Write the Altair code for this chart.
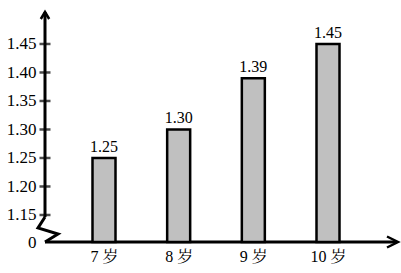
import altair as alt
import pandas as pd

# ---- data ----
ages = ["7 岁", "8 岁", "9 岁", "10 岁"]
heights = [1.25, 1.30, 1.39, 1.45]
height_labels = ["1.25", "1.30", "1.39", "1.45"]
tick_values = [1.15, 1.20, 1.25, 1.30, 1.35, 1.40, 1.45]
break_value = 1.1026          # bottom of the broken axis, shown as "0"
y_top = 1.5061

df = pd.DataFrame({"age": ages, "height": heights, "label": height_labels})
ticks_df = pd.DataFrame({"v": tick_values})
one = pd.DataFrame({"k": [0]})

W, H = 353, 230
FONT = "Liberation Serif, Noto Serif CJK SC, Noto Sans CJK SC"
FS = 16

y_scale = alt.Scale(domain=[break_value, y_top], nice=False, zero=False)
y_axis = alt.Axis(
    values=[break_value] + tick_values,
    labelExpr="datum.value < 1.12 ? '0' : format(datum.value, '.2f')",
    domain=False, ticks=False, grid=False, title=None,
    labelPadding=9, labelFont=FONT, labelFontSize=17, labelColor="black",
    labelOverlap=False, labelFlush=False,
)
x_enc = alt.X(
    "age:N", sort=ages,
    scale=alt.Scale(type="point", range=[59, 283], padding=0),
    axis=alt.Axis(title=None, domain=False, ticks=False, grid=False, labelAngle=0,
                  labelFont=FONT, labelFontSize=FS, labelColor="black",
                  labelPadding=6, labelBaseline="top"),
)

bars = alt.Chart(df).mark_bar(
    fill="#c0c0c0", stroke="black", strokeWidth=2.5, width=23
).encode(
    x=x_enc,
    y=alt.Y("height:Q", scale=y_scale, axis=y_axis),
    y2=alt.datum(break_value),
)

labels = alt.Chart(df).mark_text(
    font=FONT, fontSize=FS, color="black", baseline="alphabetic", dy=-6
).encode(
    x=x_enc,
    y=alt.Y("height:Q", scale=y_scale, axis=y_axis),
    text="label:N",
)

ticks = alt.Chart(ticks_df).mark_tick(
    color="black", thickness=2.5, size=11
).encode(
    y=alt.Y("v:Q", scale=y_scale, axis=y_axis),
    x=alt.value(0),
)

y_line = alt.Chart(one).mark_rule(color="black", strokeWidth=3).encode(
    x=alt.value(0), y=alt.value(0), y2=alt.value(205)
)
x_line = alt.Chart(one).mark_rule(color="black", strokeWidth=3).encode(
    x=alt.value(0), x2=alt.value(W - 1), y=alt.value(H)
)
y_arrow = alt.Chart(one).mark_point(
    shape="M-0.6,1L0,0L0.6,1", size=196, filled=False, stroke="black",
    strokeWidth=2.5, opacity=1
).encode(x=alt.value(0), y=alt.value(0))
x_arrow = alt.Chart(one).mark_point(
    shape="M-1,-0.5L0,0L-1,0.5", size=484, filled=False, stroke="black",
    strokeWidth=2.5, opacity=1
).encode(x=alt.value(W), y=alt.value(H))
zigzag = alt.Chart(one).mark_point(
    shape="M0,0L-0.28,0.44L0.52,0.68L0,1", size=2500, filled=False,
    stroke="black", strokeWidth=3, opacity=1
).encode(x=alt.value(0), y=alt.value(205))

chart = alt.layer(
    y_line, x_line, zigzag, y_arrow, x_arrow, ticks, bars, labels
).properties(
    width=W, height=H,
    padding={"left": 45, "top": 12, "right": 3, "bottom": 31},
    autosize=alt.AutoSizeParams(type="none"),
).configure_view(stroke=None)

chart.save("out.html", embed_options={"renderer": "svg", "actions": False})
